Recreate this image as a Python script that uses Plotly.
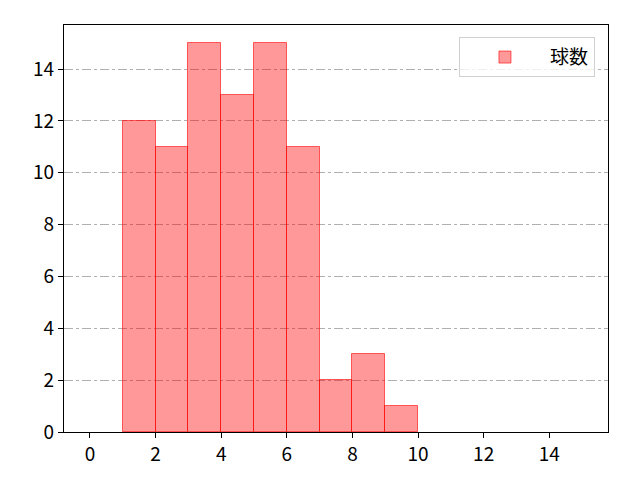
import plotly.graph_objects as go

# histogram bins (left edges) and counts
bin_left = [1, 2, 3, 4, 5, 6, 7, 8, 9]
counts = [12, 11, 15, 13, 15, 11, 2, 3, 1]
x_ticks = [0, 2, 4, 6, 8, 10, 12, 14]
y_ticks = [0, 2, 4, 6, 8, 10, 12, 14]

fig = go.Figure()
fig.add_trace(
    go.Bar(
        x=bin_left,
        y=counts,
        width=1,
        offset=0,
        name="球数",
        marker=dict(color="rgba(255,0,0,0.4)", line=dict(color="rgba(255,0,0,0.6)", width=1)),
    )
)

fig.update_layout(
    width=640,
    height=480,
    margin=dict(l=64, r=32, t=25, b=48),
    paper_bgcolor="white",
    plot_bgcolor="white",
    font=dict(family="Noto Sans CJK JP", size=19, color="black"),
    showlegend=True,
    legend=dict(
        x=0.976, y=0.97, xanchor="right", yanchor="top",
        bgcolor="rgba(255,255,255,0.8)", bordercolor="#d0d0d0", borderwidth=1,
        font=dict(size=19), itemwidth=80,
    ),
    bargap=0,
)
fig.update_xaxes(
    range=[-0.79, 15.79], tickvals=x_ticks, showgrid=False, zeroline=False,
    showline=True, linecolor="black", linewidth=1.2, mirror=True,
    ticks="outside", ticklen=5, tickcolor="black",
)
fig.update_yaxes(
    range=[0, 15.7], tickvals=y_ticks, showgrid=True, gridcolor="#b0b0b0",
    griddash="dashdot", gridwidth=1, zeroline=False,
    showline=True, linecolor="black", linewidth=1.2, mirror=True,
    ticks="outside", ticklen=5, tickcolor="black",
)

# drop the page margin so the figure sits at the window corner
fig.write_html(
    "out.html",
    config={"displayModeBar": False},
    post_script="document.body.style.margin='0';",
)
